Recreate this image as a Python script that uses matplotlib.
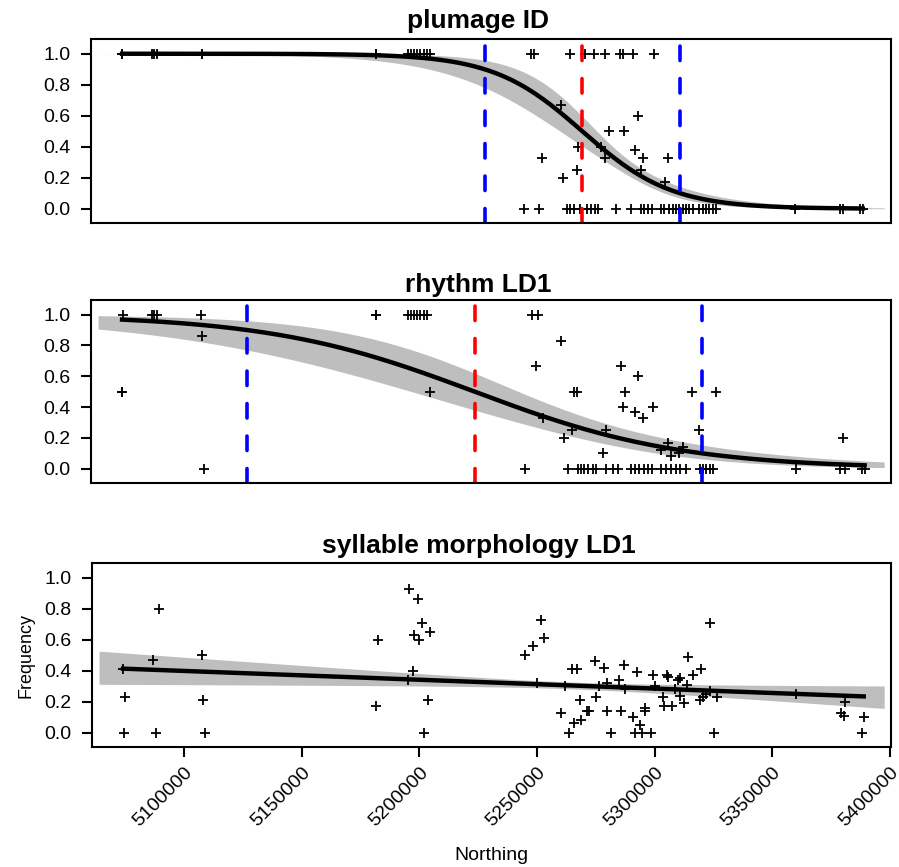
import numpy as np
import matplotlib.pyplot as plt
from matplotlib.transforms import ScaledTranslation

plt.rcParams['font.family'] = ['Liberation Sans', 'DejaVu Sans']

# ---- plumage ID ----
plum_x = [5074000, 5074000, 5086800, 5087700, 5088900, 5108100, 5108100, 5181700, 5181700,
          5195300, 5196600, 5197900, 5199100, 5200400, 5202100, 5203400, 5204700,
          5247600, 5248900, 5264200, 5270600, 5274500, 5279100, 5285500, 5286800, 5291000, 5300000,
          5260400, 5293200, 5280800, 5287200, 5267600, 5277400, 5291900, 5252300, 5279100,
          5295300, 5305900, 5267200, 5261300, 5294500, 5304700,
          5244700, 5251100, 5263000, 5264200, 5265900, 5268500, 5271500, 5273200, 5274900,
          5276200, 5283800, 5290200, 5294500, 5295700, 5297400, 5299100, 5303000, 5304200,
          5306300, 5308100, 5309300, 5310600, 5312300, 5313600, 5314900, 5316600, 5319100,
          5320800, 5322100, 5323400, 5325100, 5326400, 5359600, 5378700, 5380000, 5387200, 5388500]
plum_y = [1, 1, 1, 1, 1, 1, 1, 1, 1,
          1, 1, 1, 1, 1, 1, 1, 1,
          1, 1, 1, 1, 1, 1, 1, 1, 1, 1,
          0.67, 0.6, 0.5, 0.5, 0.4, 0.4, 0.38, 0.33, 0.33,
          0.33, 0.33, 0.25, 0.2, 0.25, 0.17,
          0, 0, 0, 0, 0, 0, 0, 0, 0,
          0, 0, 0, 0, 0, 0, 0, 0, 0,
          0, 0, 0, 0, 0, 0, 0, 0, 0,
          0, 0, 0, 0, 0, 0, 0, 0, 0, 0]
plum_centre = 5269400
plum_width = 18900
plum_limits = [5228100, 5311000]
plum_se = [0.265, 1.43e-5, 5289400]   # ci half width on logit scale: base, slope, min location

# ---- rhythm LD1 ----
rhy_x = [5074500, 5086800, 5087700, 5088900, 5107700, 5181700, 5181700,
         5195300, 5196600, 5197900, 5199100, 5200400, 5202100, 5203400, 5248100, 5250600,
         5108100, 5074000, 5074000, 5108900, 5204700, 5260400, 5249800, 5285900, 5293200,
         5265900, 5267200, 5287600, 5315800, 5326000, 5286800, 5291900, 5295300, 5299500,
         5252800, 5265100, 5261700, 5279600, 5278300, 5303000, 5305900, 5307200, 5310600,
         5312300, 5319100, 5380000,
         5245200, 5263500, 5267500, 5268900, 5270300, 5271800, 5273900, 5275300, 5279600,
         5282400, 5284500, 5290200, 5291900, 5293700, 5295600, 5297300, 5299000, 5303000,
         5305100, 5307200, 5309300, 5311100, 5313600, 5319300, 5320700, 5322100, 5323500,
         5325000, 5360000, 5378700, 5380800, 5388100, 5389300]
rhy_y = [1, 1, 1, 1, 1, 1, 1,
         1, 1, 1, 1, 1, 1, 1, 1, 1,
         0.86, 0.5, 0.5, 0, 0.5, 0.83, 0.67, 0.67, 0.6,
         0.5, 0.5, 0.5, 0.5, 0.5, 0.4, 0.37, 0.33, 0.4,
         0.33, 0.25, 0.2, 0.25, 0.1, 0.12, 0.17, 0.08, 0.1,
         0.14, 0.25, 0.2,
         0, 0, 0, 0, 0, 0, 0, 0, 0,
         0, 0, 0, 0, 0, 0, 0, 0, 0,
         0, 0, 0, 0, 0, 0, 0, 0, 0,
         0, 0, 0, 0, 0, 0]
rhy_centre = 5223800
rhy_width = 44000
rhy_limits = [5127200, 5320400]
rhy_se = [0.383, 6.3e-6, 5271800]

# ---- syllable morphology LD1 ----
syl_x = [5074000, 5074900, 5074500, 5086800, 5089400, 5088100, 5107700, 5108100, 5108900,
         5182500, 5181700, 5195700, 5199600, 5201300, 5197900, 5200000, 5204700, 5197400,
         5195300, 5203800, 5202100,
         5251500, 5252800, 5248500, 5245100, 5249800, 5261700, 5260400, 5263400, 5264700,
         5266800, 5268100, 5265900, 5268500, 5271100, 5271900, 5274500, 5278300, 5274900,
         5276200, 5279600, 5279600, 5281300, 5284700, 5286800, 5285900, 5287600, 5290600,
         5292300, 5293600, 5295700, 5295700, 5291500, 5294500, 5298300, 5299500, 5300000,
         5303400, 5304200, 5305100, 5305900, 5307200, 5308500, 5309800, 5310600, 5311000,
         5312300, 5313600, 5314000, 5316200, 5319100, 5319600, 5320400, 5321700, 5323400,
         5323400, 5325100, 5326400, 5360000, 5380800, 5379100, 5380400, 5388900, 5388100]
syl_y = [0.41, 0.23, 0, 0.47, 0.80, 0, 0.50, 0.21, 0,
         0.60, 0.17, 0.93, 0.86, 0.71, 0.63, 0.60, 0.65, 0.40,
         0.34, 0.21, 0,
         0.73, 0.61, 0.56, 0.50, 0.32, 0.30, 0.13, 0, 0.41,
         0.41, 0.21, 0.06, 0.08, 0.14, 0.14, 0.46, 0.42, 0.23,
         0.30, 0.32, 0.14, 0, 0.34, 0.44, 0.14, 0.28, 0.10,
         0.39, 0.05, 0.16, 0.14, 0, 0, 0, 0.37, 0.30,
         0.23, 0.17, 0.37, 0.36, 0.17, 0.28, 0.34, 0.35, 0.24,
         0.19, 0.31, 0.49, 0.37, 0.21, 0.41, 0.23, 0.25, 0.27,
         0.71, 0, 0.23, 0.25, 0.20, 0.13, 0.11, 0.10, 0]
syl_intercept = 0.413     # fitted value at syl_ref
syl_ref = 5074800
syl_slope = -5.69e-7
syl_se = [0.022, 5.2e-7, 5265000]

band_range = [5063800, 5397600]
x_ticks = [5100000, 5150000, 5200000, 5250000, 5300000, 5350000, 5400000]
y_ticks = [0.0, 0.2, 0.4, 0.6, 0.8, 1.0]

band_col = '#BEBEBE'
dash = (0, (4, 5))


def logistic(x, centre, width):
    return 1 / (1 + np.exp((x - centre) / width))


def half_width(x, se):
    return np.sqrt(se[0] ** 2 + (se[1] * (x - se[2])) ** 2)


fig = plt.figure(figsize=(8.99, 8.67), dpi=100)
boxes = [[91, 39, 891, 223], [91, 300, 891, 483], [92, 563, 891, 747]]
axes = []
for l, t, r, b in boxes:
    axes.append(fig.add_axes([l / 899, 1 - b / 867, (r - l) / 899, (b - t) / 867]))


def style(ax, title, bottom, tpad):
    ax.set_xlim(5060800, 5400500)
    ax.set_ylim(-0.092, 1.095)
    ax.set_yticks(y_ticks)
    ax.set_yticklabels(['%.1f' % v for v in y_ticks])
    ax.set_xticks(x_ticks)
    if bottom:
        labs = ax.set_xticklabels([str(v) for v in x_ticks], rotation=45, ha='right',
                                  rotation_mode='anchor', fontsize=13)
        shift = ScaledTranslation(0, -2 / 100, fig.dpi_scale_trans)
        for t in labs:
            t.set_transform(t.get_transform() + shift)
    else:
        ax.set_xticks([])
    ax.tick_params(direction='out', length=7.5, width=1.5, labelsize=14, pad=7)
    ax.tick_params(axis='x', pad=5)
    for s in ax.spines.values():
        s.set_linewidth(1.5)
    ax.set_title(title, fontsize=19, fontweight='bold', pad=tpad, x=0.484)


xs = np.linspace(band_range[0], band_range[1], 300)

# plumage
ax = axes[0]
eta = -(xs - plum_centre) / plum_width
hw = half_width(xs, plum_se)
ax.fill_between(xs, 1 / (1 + np.exp(-(eta - hw))), 1 / (1 + np.exp(-(eta + hw))), color=band_col, lw=0)
xl = np.linspace(min(plum_x), max(plum_x), 300)
ax.plot(xl, logistic(xl, plum_centre, plum_width), color='black', lw=3.2)
ax.plot(plum_x, plum_y, '+', color='black', ms=7.5, mew=1.3)
for v in plum_limits:
    ax.axvline(v, color='blue', lw=2.6, ls=dash, dash_capstyle='round')
ax.axvline(plum_centre, color='red', lw=2.6, ls=dash, dash_capstyle='round')
style(ax, 'plumage ID', False, 8)

# rhythm
ax = axes[1]
eta = -(xs - rhy_centre) / rhy_width
hw = half_width(xs, rhy_se)
ax.fill_between(xs, 1 / (1 + np.exp(-(eta - hw))), 1 / (1 + np.exp(-(eta + hw))), color=band_col, lw=0)
xl = np.linspace(min(rhy_x), max(rhy_x), 300)
ax.plot(xl, logistic(xl, rhy_centre, rhy_width), color='black', lw=3.2)
ax.plot(rhy_x, rhy_y, '+', color='black', ms=7.5, mew=1.3)
for v in rhy_limits:
    ax.axvline(v, color='blue', lw=2.6, ls=dash, dash_capstyle='round')
ax.axvline(rhy_centre, color='red', lw=2.6, ls=dash, dash_capstyle='round')
style(ax, 'rhythm LD1', False, 6)

# syllable
ax = axes[2]
fit = syl_intercept + syl_slope * (xs - syl_ref)
hw = half_width(xs, syl_se)
ax.fill_between(xs, fit - hw, fit + hw, color=band_col, lw=0)
xl = np.array([min(syl_x), max(syl_x)])
ax.plot(xl, syl_intercept + syl_slope * (xl - syl_ref), color='black', lw=3.2)
ax.plot(syl_x, syl_y, '+', color='black', ms=7.5, mew=1.3)
style(ax, 'syllable morphology LD1', True, 7.5)
ax.set_ylabel('Frequency', fontsize=13, labelpad=7)
ax.set_xlabel('Northing', fontsize=14, labelpad=12)

fig.savefig('out.png', dpi=100)
